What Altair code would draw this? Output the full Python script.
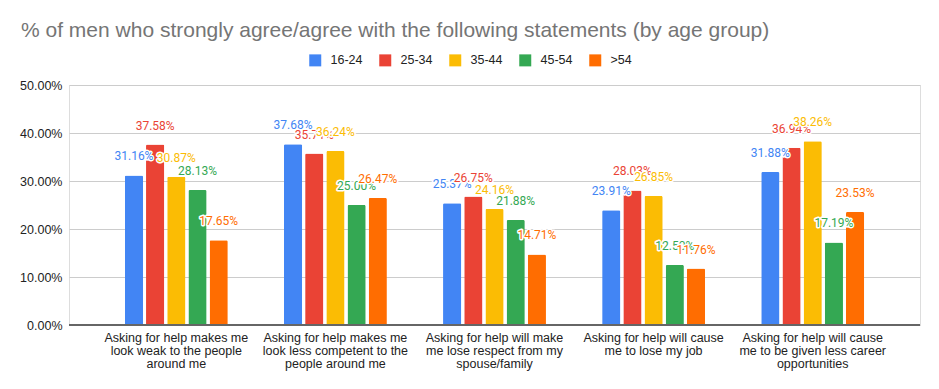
import altair as alt
import pandas as pd

categories = [
    "Asking for help makes me|look weak to the people|around me",
    "Asking for help makes me|look less competent to the|people around me",
    "Asking for help will make|me lose respect from my|spouse/family",
    "Asking for help will cause|me to lose my job",
    "Asking for help will cause|me to be given less career|opportunities",
]
age_groups = ["16-24", "25-34", "35-44", "45-54", ">54"]
colors = ["#4285F4", "#EA4335", "#FBBC04", "#34A853", "#FF6D01"]
v_16_24 = [31.16, 37.68, 25.37, 23.91, 31.88]
v_25_34 = [37.58, 35.71, 26.75, 28.03, 36.94]
v_35_44 = [30.87, 36.24, 24.16, 26.85, 38.26]
v_45_54 = [28.13, 25.00, 21.88, 12.50, 17.19]
v_gt_54 = [17.65, 26.47, 14.71, 11.76, 23.53]
y_ticks = [0, 10, 20, 30, 40, 50]

series = [v_16_24, v_25_34, v_35_44, v_45_54, v_gt_54]
rows = []
for age, vals in zip(age_groups, series):
    for cat, v in zip(categories, vals):
        rows.append({"category": cat, "age": age, "value": v})
df = pd.DataFrame(rows)

AXIS_FONT = "Liberation Sans"

x_enc = alt.X(
    "category:N",
    sort=categories,
    scale=alt.Scale(domain=categories, paddingInner=0.353, paddingOuter=0.351),
    axis=alt.Axis(
        title=None, labelAngle=0, ticks=False, domain=False,
        labelExpr="split(datum.label, '|')", labelFontSize=12.5,
        labelLineHeight=13, labelColor="#222222", labelFont=AXIS_FONT,
        labelPadding=6, labelLimit=0,
    ),
)
xoff_enc = alt.XOffset(
    "age:N", sort=age_groups,
    scale=alt.Scale(domain=age_groups, paddingInner=0.14),
)
y_enc = alt.Y(
    "value:Q",
    scale=alt.Scale(domain=[0, 50], nice=False),
    axis=alt.Axis(
        title=None, values=y_ticks, ticks=False, domain=False,
        labelExpr="format(datum.value, '.2f') + '%'", labelFontSize=12.5,
        labelColor="#222222", labelFont=AXIS_FONT, labelPadding=7,
        gridColor="#cccccc", gridWidth=1,
    ),
)
color_scale = alt.Scale(domain=age_groups, range=colors)

base = alt.Chart(df).transform_calculate(
    label="format(datum.value, '.2f') + '%'"
)

bars = base.mark_bar(cornerRadiusTopLeft=1.5, cornerRadiusTopRight=1.5).encode(
    x=x_enc,
    xOffset=xoff_enc,
    y=y_enc,
    color=alt.Color(
        "age:N", sort=age_groups, scale=color_scale,
        legend=alt.Legend(
            title=None, orient="none", direction="horizontal",
            legendX=240, legendY=-31, symbolType="square", symbolSize=144,
            symbolStrokeWidth=0, labelFontSize=12.5, labelColor="#222222",
            labelFont=AXIS_FONT, labelOffset=9, columnPadding=16, padding=0,
        ),
    ),
)

baseline = alt.Chart(df).mark_rule(color="#666666", strokeWidth=1.2).encode(
    y=alt.datum(0)
)

layers = [bars, baseline]
for age in age_groups:
    sub = base.transform_filter(alt.datum.age == age)
    halo = sub.mark_text(
        dy=-19, baseline="middle", align="center", font="Roboto",
        fontSize=12, stroke="white", strokeWidth=3, fill="white",
        strokeJoin="round",
    ).encode(x=x_enc, xOffset=xoff_enc, y=y_enc, text="label:N")
    txt = sub.mark_text(
        dy=-19, baseline="middle", align="center", font="Roboto", fontSize=12,
    ).encode(
        x=x_enc, xOffset=xoff_enc, y=y_enc, text="label:N",
        color=alt.Color("age:N", sort=age_groups, scale=color_scale, legend=None),
    )
    layers += [halo, txt]

chart = alt.layer(*layers).properties(
    width=851,
    height=240,
    title=alt.TitleParams(
        "% of men who strongly agree/agree with the following statements (by age group)",
        anchor="start", frame="group", dx=-48, fontSize=21, color="#757575",
        font=AXIS_FONT, fontWeight="normal", offset=13,
    ),
    autosize=alt.AutoSizeParams(type="none"),
    padding={"left": 61, "top": 77, "right": 11, "bottom": 56},
).configure_view(stroke=None).configure(background="white")

chart.save("out.html", embed_options={"renderer": "svg", "actions": False})
